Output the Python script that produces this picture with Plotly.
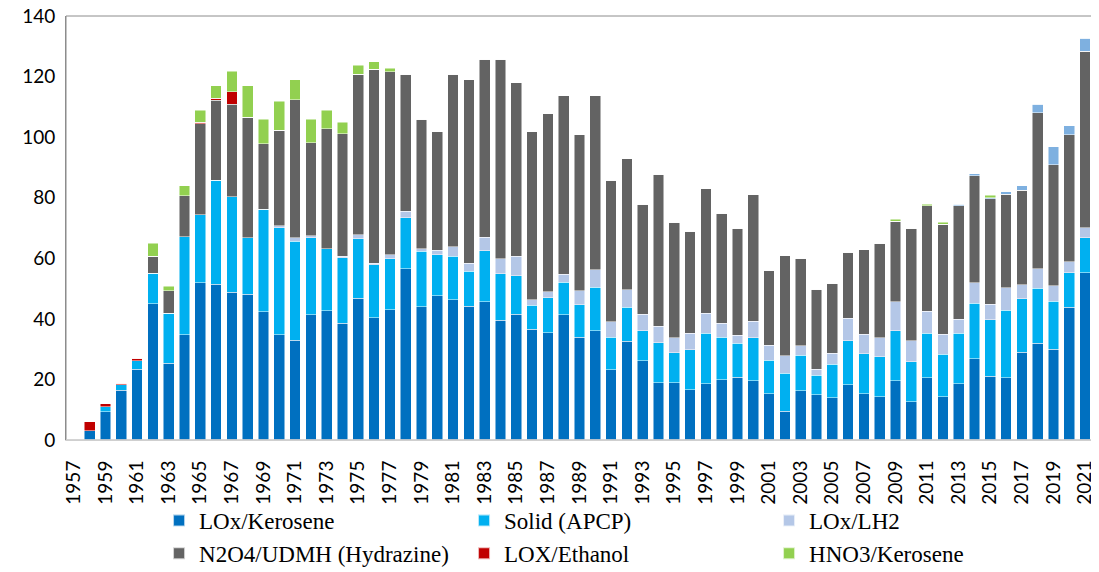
import plotly.graph_objects as go

years = list(range(1957, 2022))

# launches per year by propellant
lox_kerosene = [0, 3, 9.3, 16.5, 23.4, 45, 25.3, 34.7, 51.9, 51.4, 48.8, 48.1, 42.3, 34.8, 33.0, 41.3,
                42.6, 38.6, 46.8, 40.3, 43.0, 56.6, 44.0, 47.7, 46.3, 44.2, 45.6, 39.6, 41.6, 36.5, 35.4,
                41.4, 33.9, 36.0, 23.2, 32.6, 26.1, 18.9, 18.9, 16.6, 18.5, 19.9, 20.8, 19.5, 15.3, 9.5,
                16.2, 15.0, 14.0, 18.3, 15.2, 14.3, 19.5, 12.7, 20.5, 14.3, 18.5, 26.9, 21.1, 20.6, 28.9,
                31.9, 30.0, 43.9, 55.2]
solid_apcp = [0, 0, 1.7, 1.7, 2.8, 10, 16.5, 32.4, 22.5, 34.4, 31.5, 18.7, 33.9, 35.3, 32.6, 25.5,
              20.5, 21.6, 19.6, 17.5, 16.8, 16.8, 18.3, 13.5, 14.4, 11.6, 16.9, 15.3, 12.7, 8.0, 11.6,
              10.7, 10.7, 14.5, 10.8, 11.2, 10.0, 13.2, 9.9, 13.2, 16.8, 14.1, 11.1, 14.2, 11.0, 12.6,
              11.8, 6.3, 11.0, 14.4, 13.3, 13.2, 16.5, 13.2, 14.8, 14.0, 16.8, 18.3, 18.6, 22.3, 17.7,
              18.2, 15.8, 11.3, 11.5]
lox_lh2 = [0, 0, 0, 0, 0, 0, 0, 0, 0, 0, 0, 0, 0, 0.6, 1.2, 0.7,
           0, 0.5, 1.4, 0.6, 1.3, 2.1, 0.8, 1.5, 3.1, 2.6, 4.4, 5.0, 6.4, 1.8, 1.9,
           2.7, 4.6, 5.7, 5.0, 5.8, 5.5, 5.5, 4.9, 5.5, 6.6, 4.6, 2.7, 5.5, 5.0, 5.7,
           3.1, 2.0, 3.7, 7.5, 6.4, 6.2, 9.7, 6.9, 7.2, 6.7, 4.5, 6.7, 5.1, 7.4, 4.7,
           6.4, 5.2, 3.7, 3.4]
n2o4_udmh = [0, 0, 0, 0, 0, 5.7, 7.5, 13.6, 30.1, 26.4, 30.5, 39.7, 21.7, 31.6, 45.6, 30.7,
             39.6, 40.5, 53.0, 64.1, 60.5, 45.3, 42.8, 39.1, 57.0, 60.5, 58.9, 65.9, 57.2, 55.5, 58.9,
             58.9, 51.6, 57.5, 46.8, 43.2, 36.3, 50.2, 38.2, 33.6, 41.0, 36.2, 35.3, 41.7, 24.6, 33.1,
             28.9, 26.4, 23.0, 21.8, 28.0, 31.2, 26.6, 37.1, 34.8, 36.2, 37.5, 35.4, 34.8, 30.9, 31.2,
             51.5, 39.9, 41.9, 58.2]
lox_ethanol = [0, 3, 0.9, 0.6, 0.8, 0, 0, 0, 0.5, 0.7, 4.2] + [0] * 54
other = [0] * 56 + [0.6, 0.6, 0.4, 0.7, 1.4, 2.8, 5.9, 3.0, 4.4]
hno3_kerosene = [0, 0, 0, 0, 0, 4.2, 1.5, 3.2, 3.8, 4.0, 6.8, 10.4, 8.0, 9.5, 6.5, 7.7,
                 6.1, 3.7, 3.0, 2.4, 1.2] + [0] * 31 + [0.6, 0, 0.6, 0.7, 0, 0, 0.8] + [0] * 6

series = [
    ("LOx/Kerosene", lox_kerosene, "#0070C0", True),
    ("Solid (APCP)", solid_apcp, "#00B0F0", True),
    ("LOx/LH2", lox_lh2, "#B4C7E7", True),
    ("N2O4/UDMH (Hydrazine)", n2o4_udmh, "#636363", True),
    ("LOX/Ethanol", lox_ethanol, "#C00000", True),
    ("Other", other, "#7EB0E0", False),
    ("HNO3/Kerosene", hno3_kerosene, "#92D050", True),
]

fig = go.Figure()
for name, vals, color, show in series:
    fig.add_trace(go.Bar(
        x=years, y=vals, name=name, showlegend=show,
        marker=dict(color=color, line=dict(color="rgba(255,255,255,0.7)", width=0.7)),
    ))

# page body has an 8px margin, so the figure is sized to fit the window
fig.update_layout(
    barmode="stack",
    bargap=0.32,
    width=1091, height=564,
    margin=dict(l=58, r=6, t=8, b=132, autoexpand=False),
    paper_bgcolor="white", plot_bgcolor="white",
    font=dict(family="Lato, Open Sans, sans-serif", color="black"),
    legend=dict(
        orientation="h", traceorder="normal",
        x=0.0906, xanchor="left", y=-0.139, yanchor="top",
        entrywidth=260, entrywidthmode="pixels",
        bgcolor="rgba(0,0,0,0)",
        font=dict(family="Liberation Serif, Times New Roman, serif", size=23, color="black"),
        tracegroupgap=0, itemsizing="constant",
    ),
)
fig.update_xaxes(
    range=[1956.5, 2021.5], tick0=1957, dtick=2, tickangle=-90,
    tickfont=dict(size=19), showgrid=False, zeroline=False,
    showline=True, linecolor="#d9d9d9", linewidth=1, mirror=False, ticks="",
    ticklabelstandoff=12, ticklabeloverflow="allow",
)
fig.update_yaxes(
    range=[0, 140], dtick=20, tickfont=dict(size=19), showgrid=False, zeroline=False,
    showline=True, linecolor="#8c8c8c", linewidth=1, ticks="", ticklabelstandoff=6,
    ticklabeloverflow="allow",
)
# grey frame on top, left and right of the plot area
fig.add_shape(type="rect", xref="paper", yref="paper", x0=0, x1=1, y0=0, y1=1,
              line=dict(color="#8c8c8c", width=1), fillcolor="rgba(0,0,0,0)", layer="above")
fig.add_shape(type="line", xref="paper", yref="paper", x0=0, x1=1, y0=0, y1=0,
              line=dict(color="#d9d9d9", width=1.5), layer="above")

fig.write_html("out.html")
